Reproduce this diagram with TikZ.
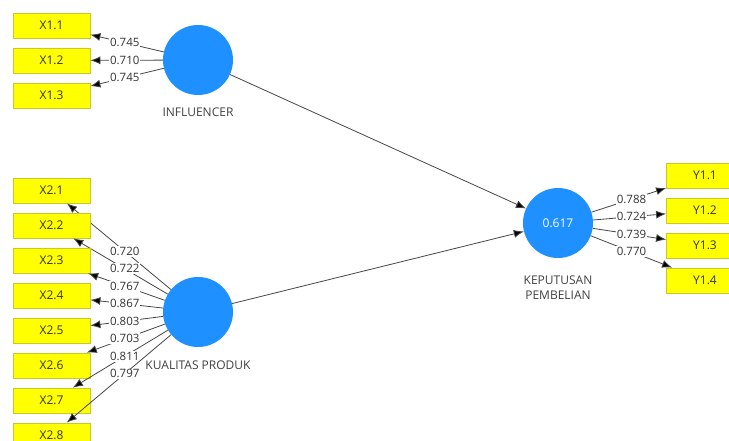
\documentclass[tikz,border=0pt]{standalone}
\usepackage{fontspec}
\setmainfont{Open Sans}
\usetikzlibrary{arrows.meta, positioning}
\tikzset{>=latex}
\definecolor{plsblue}{RGB}{30,144,255}
\definecolor{plsyellow}{RGB}{255,255,0}
\definecolor{plsedge}{RGB}{200,200,40}
\definecolor{plsline}{RGB}{70,70,70}
\tikzset{
  latent/.style={circle, fill=plsblue, minimum size=70pt, inner sep=0pt,
    text=white, font=\fontsize{12}{14}\selectfont},
  indicator/.style={rectangle, fill=plsyellow, draw=plsedge, line width=0.8pt,
    minimum width=77pt, minimum height=25pt, inner sep=0pt,
    text=black!80, font=\fontsize{12}{14}\selectfont},
  lvname/.style={font=\fontsize{12}{15}\selectfont, text=black!75, align=center,
    inner sep=0pt},
  loading/.style={fill=white, inner sep=1pt, text=black!80,
    font=\fontsize{11.5}{12}\selectfont},
  path/.style={draw=plsline, line width=0.8pt, -{Latex[length=10pt,width=8pt,fill=black]}},
}
\def\rescale{1pt}

\begin{document}
\begin{tikzpicture}[x=\rescale, y=-\rescale]

\useasboundingbox (0,0) rectangle (729,441);
\clip (0,0) rectangle (729,441);

    \node[latent] (infl) at (198, 60) {};
    \node[latent] (kual) at (198, 312) {};
    \node[latent] (kep) at (558, 223) {0.617};

    \node[lvname, below=12pt of infl] (inflname) {INFLUENCER};
    \node[lvname, below=13pt of kual] (kualname) {KUALITAS PRODUK};
    \node[lvname, below=17pt of kep] (kepname) {KEPUTUSAN\\PEMBELIAN};

\foreach \i/\w in {1/0.745, 2/0.710, 3/0.745} {
      \node[indicator] (x1\i) at (51.5, 25.5 + 35 * \i - 35) {X1.\i};
      \draw[path] (infl) -- (x1\i);
      \path (infl.center) -- node[loading] {\w} (x1\i.center);
}

\foreach \i/\w in {1/0.720, 2/0.722, 3/0.767, 4/0.867, 5/0.803, 6/0.703, 7/0.811, 8/0.797} {
      \node[indicator] (x2\i) at (51.5, 190.5 + 35 * \i - 35) {X2.\i};
      \draw[path] (kual) -- (x2\i);
      \path (kual.center) -- node[loading] {\w} (x2\i.center);
}

\foreach \i/\w in {1/0.788, 2/0.724, 3/0.739, 4/0.770} {
      \node[indicator] (y\i) at (705, 175.5 + 35 * \i - 35) {Y1.\i};
      \draw[path] (kep) -- (y\i);
      \path (kep.center) -- node[loading] {\w} (y\i.center);
}

    \draw[path] (infl) -- (kep);
    \draw[path] (kual) -- (kep);

\end{tikzpicture}
\end{document}
